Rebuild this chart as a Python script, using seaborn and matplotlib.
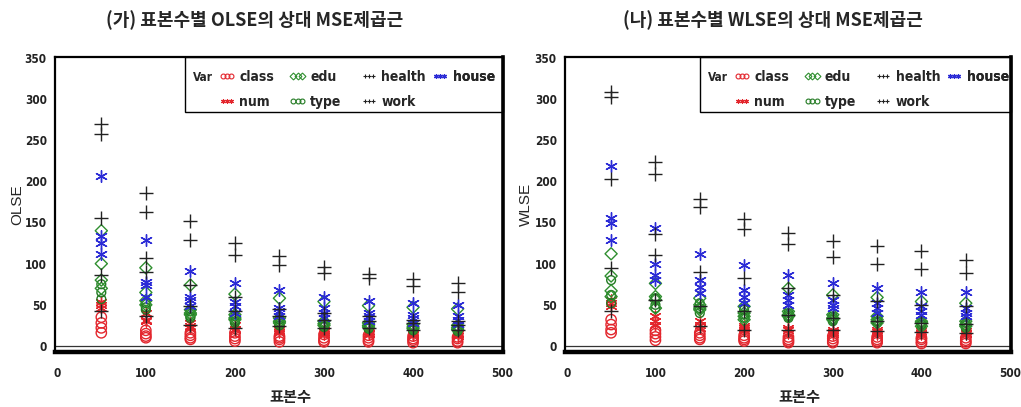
import numpy as np
import pandas as pd
import matplotlib
matplotlib.use("Agg")
import matplotlib.pyplot as plt
from matplotlib.lines import Line2D
from matplotlib.patches import Rectangle
from matplotlib.font_manager import FontProperties
import seaborn as sns

sns.set_style("white")
plt.rcParams["font.family"] = ["Noto Sans CJK KR", "DejaVu Sans"]

# sample sizes on the x axis
SAMPLE_SIZES = [50, 100, 150, 200, 250, 300, 350, 400, 450]

# relative root-MSE of the OLS estimator, one row per coefficient of each variable
OLSE_CLASS = [[35, 19, 16, 16, 12, 14, 13, 12, 11],
              [28, 15, 13, 12, 10, 10, 10, 9, 9],
              [22, 12, 10, 9, 8, 7, 7, 7, 6],
              [16, 10, 8, 6, 5, 5, 5, 4, 4]]
OLSE_EDU = [[140, 95, 74, 63, 58, 54, 49, 47, 45],
            [100, 65, 44, 38, 34, 30, 28, 26, 25],
            [80, 55, 40, 34, 30, 27, 25, 23, 22],
            [70, 50, 38, 32, 28, 25, 23, 21, 20]]
OLSE_HEALTH = [[270, 186, 152, 125, 109, 96, 88, 81, 77],
               [258, 163, 129, 111, 98, 89, 83, 73, 65],
               [155, 107, 74, 60, 45, 40, 36, 32, 30]]
OLSE_HOUSE = [[206, 129, 91, 76, 68, 59, 55, 52, 50],
              [133, 78, 60, 54, 46, 46, 40, 38, 36],
              [125, 74, 56, 48, 42, 40, 36, 34, 32],
              [112, 60, 48, 40, 36, 34, 30, 28, 27]]
OLSE_NUM = [[54, 40, 28, 25, 22, 19, 18, 17, 16],
            [50, 32, 24, 21, 19, 17, 16, 15, 14],
            [46, 30, 22, 19, 17, 15, 14, 13, 12]]
OLSE_TYPE = [[75, 52, 42, 36, 32, 28, 26, 24, 23],
             [65, 47, 36, 30, 27, 24, 22, 21, 20],
             [57, 44, 34, 28, 25, 23, 21, 19, 18]]
OLSE_WORK = [[86, 90, 48, 42, 36, 32, 30, 28, 26],
             [42, 36, 26, 22, 24, 22, 22, 20, 19]]

# relative root-MSE of the WLS estimator
WLSE_CLASS = [[32, 19, 16, 13, 11, 12, 11, 10, 10],
              [26, 15, 13, 10, 8, 9, 8, 8, 7],
              [20, 11, 10, 8, 6, 6, 6, 5, 5],
              [16, 7, 8, 6, 4, 4, 4, 3, 3]]
WLSE_EDU = [[112, 76, 58, 48, 70, 62, 59, 54, 52],
            [85, 60, 50, 40, 42, 38, 36, 30, 30],
            [67, 56, 46, 36, 38, 34, 32, 28, 26],
            [60, 46, 44, 32, 36, 32, 28, 24, 24]]
WLSE_HEALTH = [[308, 223, 179, 154, 137, 128, 121, 115, 105],
               [302, 209, 169, 142, 124, 108, 100, 94, 89],
               [203, 136, 90, 82, 70, 62, 55, 50, 48]]
WLSE_HOUSE = [[219, 143, 112, 98, 86, 77, 71, 66, 66],
              [155, 100, 80, 68, 62, 56, 52, 48, 46],
              [149, 86, 72, 60, 56, 50, 46, 43, 40],
              [129, 80, 64, 52, 50, 46, 40, 38, 36]]
WLSE_NUM = [[56, 36, 30, 24, 22, 19, 19, 18, 18],
            [52, 30, 26, 22, 19, 17, 17, 16, 16],
            [48, 26, 22, 20, 16, 15, 15, 14, 14]]
WLSE_TYPE = [[80, 58, 52, 44, 40, 36, 34, 28, 28],
             [62, 50, 46, 38, 36, 32, 30, 26, 25],
             [52, 46, 40, 34, 34, 30, 28, 24, 22]]
WLSE_WORK = [[95, 110, 48, 42, 38, 34, 30, 28, 27],
             [42, 56, 24, 20, 20, 19, 18, 17, 16]]

VAR_NAMES = ["class", "edu", "health", "house", "num", "type", "work"]
PANEL_TITLES = ["(가) 표본수별 OLSE의 상대 MSE제곱근", "(나) 표본수별 WLSE의 상대 MSE제곱근"]
Y_LABELS = ["OLSE", "WLSE"]
X_LABEL = "표본수"
LEGEND_TITLE = "Var"
# legend grid: columns of (row 1, row 2)
LEGEND_COLUMNS = [["class", "num"], ["edu", "type"], ["health", "work"], ["house"]]

RED, GREEN, BLUE, BLACK = "#e3262d", "#2f8f2f", "#2b2bd6", "#222222"
STAR = (6, 2, 0)
STYLES = {
    "class":  dict(marker="o", color=RED, open=True, s=55),
    "edu":    dict(marker="D", color=GREEN, open=True, s=38),
    "health": dict(marker="+", color=BLACK, open=False, s=90),
    "house":  dict(marker=STAR, color=BLUE, open=False, s=70),
    "num":    dict(marker=STAR, color=RED, open=False, s=60),
    "type":   dict(marker="o", color="#227a22", open=True, s=40),
    "work":   dict(marker="+", color=BLACK, open=False, s=90),
}


def to_long(series):
    rows = []
    for var, levels in series.items():
        for k, level in enumerate(levels):
            for n, v in zip(SAMPLE_SIZES, level):
                rows.append((var, k, n, v))
    return pd.DataFrame(rows, columns=["Var", "coef", "n", "value"])


ols = to_long(dict(zip(VAR_NAMES, [OLSE_CLASS, OLSE_EDU, OLSE_HEALTH, OLSE_HOUSE,
                                   OLSE_NUM, OLSE_TYPE, OLSE_WORK])))
wls = to_long(dict(zip(VAR_NAMES, [WLSE_CLASS, WLSE_EDU, WLSE_HEALTH, WLSE_HOUSE,
                                   WLSE_NUM, WLSE_TYPE, WLSE_WORK])))

W, H = 1021, 407
fig = plt.figure(figsize=(W / 100, H / 100), dpi=100)
ax_l = fig.add_axes([55 / W, 1 - 352 / H, 448 / W, 295 / H])
ax_r = fig.add_axes([565 / W, 1 - 352 / H, 446 / W, 295 / H])


def narrow(size):
    return FontProperties(family="DejaVu Sans", stretch="condensed", weight="bold", size=size)


draw_order = ["class", "num", "type", "edu", "house", "work", "health"]

panels = [(ax_l, ols, PANEL_TITLES[0], Y_LABELS[0], 0.29, -0.085, 0.445),
          (ax_r, wls, PANEL_TITLES[1], Y_LABELS[1], 0.303, -0.088, 0.466)]

for ax, df, title, ylab, box_left, ylab_x, title_x in panels:
    for var in draw_order:
        st = STYLES[var]
        sub = df[df["Var"] == var]
        if st["open"]:
            sns.scatterplot(data=sub, x="n", y="value", ax=ax, marker=st["marker"],
                            s=st["s"], facecolor="none", edgecolor=st["color"],
                            linewidth=1.0, legend=False, zorder=3)
        else:
            sns.scatterplot(data=sub, x="n", y="value", ax=ax, marker=st["marker"],
                            s=st["s"], color=st["color"], linewidth=1.0,
                            legend=False, zorder=3)
    ax.axhline(0, color="#333333", lw=0.9, zorder=1)
    ax.set_xlim(-2, 501)
    ax.set_ylim(-7.3, 351)
    ax.set_xticks(range(0, 501, 100))
    ax.set_yticks(range(0, 351, 50))
    ax.tick_params(axis="both", direction="out", length=4, width=1.2, color="black", pad=2)
    ax.tick_params(axis="x", pad=7)
    for lab in ax.get_xticklabels() + ax.get_yticklabels():
        lab.set_fontproperties(narrow(8.5))
        lab.set_color("#222222")
    for side, lw in [("left", 1.6), ("top", 1.6), ("right", 2.6), ("bottom", 3.2)]:
        ax.spines[side].set_visible(True)
        ax.spines[side].set_linewidth(lw)
        ax.spines[side].set_color("black")
    ax.set_xlabel(X_LABEL, fontsize=11, fontweight="bold", va="center")
    ax.xaxis.set_label_coords(0.525, -0.153)
    ax.set_ylabel(ylab, fontsize=11, family=["Liberation Sans", "DejaVu Sans"], va="center")
    ax.yaxis.set_label_coords(ylab_x, 0.5)
    ax.set_title(title, fontsize=13, fontweight="bold", pad=22, x=title_x)

    # legend frame in the upper right corner
    ax.add_patch(Rectangle((box_left, 0.814), 1 - box_left, 0.186, transform=ax.transAxes,
                           fill=False, edgecolor="black", lw=1.0, zorder=4, clip_on=False))
    ax.text(box_left + 0.018, 0.932, LEGEND_TITLE, transform=ax.transAxes, ha="left",
            va="center", fontproperties=narrow(8.5), zorder=5)
    col_offsets = [0.075, 0.233, 0.392, 0.551]
    for offset, names in zip(col_offsets, LEGEND_COLUMNS):
        handles = []
        for var in names:
            st = STYLES[var]
            handles.append(Line2D([], [], linestyle="none", marker=st["marker"], markersize=3.5,
                                  markerfacecolor="none" if st["open"] else st["color"],
                                  markeredgecolor=st["color"], markeredgewidth=0.8, label=var))
        leg = ax.legend(handles=handles, ncol=1, numpoints=3, frameon=False,
                        loc="upper left", bbox_to_anchor=(box_left + offset, 0.955),
                        handlelength=1.2, handletextpad=0.3, labelspacing=0.75,
                        borderaxespad=0, borderpad=0, prop=narrow(10))
        leg.set_zorder(5)
        ax.add_artist(leg)

fig.savefig("out.png", dpi=100)
